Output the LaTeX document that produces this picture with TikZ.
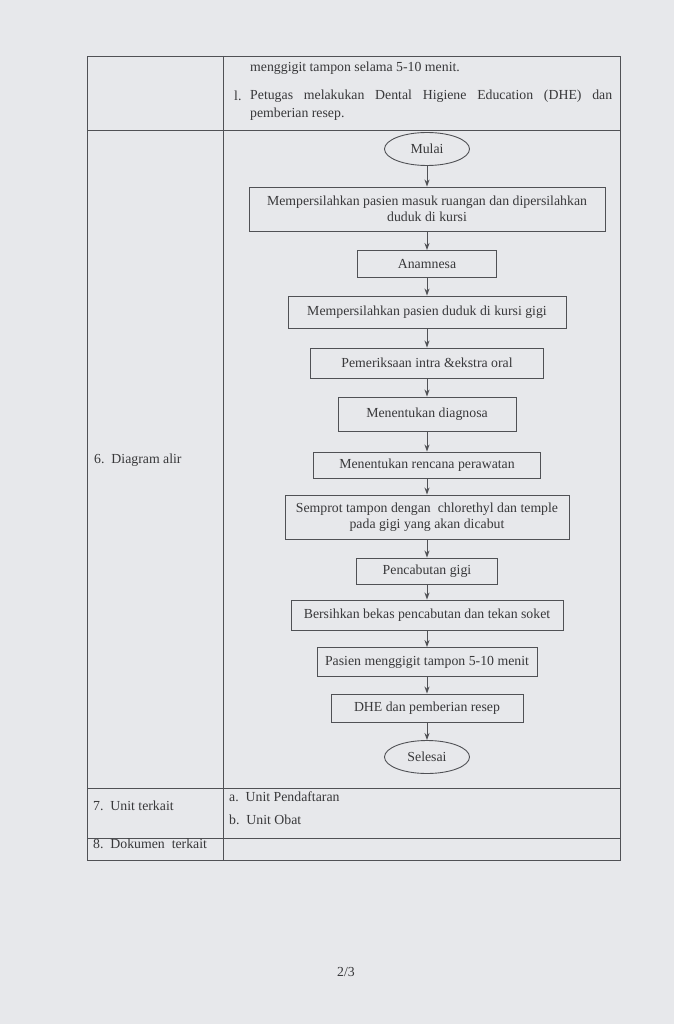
\documentclass[tikz,border=0pt]{standalone}
\usepackage{fontspec}
\setmainfont{Liberation Serif}
\usetikzlibrary{arrows.meta,shapes.geometric}
\definecolor{paper}{HTML}{E7E8EB}
\definecolor{ink}{HTML}{38383A}
\definecolor{rule}{HTML}{505155}
\begin{document}
\begin{tikzpicture}[
	x=1pt, y=-1pt,
	font=\fontsize{13.8}{16}\selectfont,
	text=ink
]
\tikzset{
    stepbox/.style = {rectangle, draw=rule, line width=0.9pt, align=center, inner sep=2pt},
    termnode/.style = {ellipse, draw=rule, line width=0.9pt, align=center, minimum width=85, minimum height=33, inner sep=1pt},
    edgea/.style = {-{Stealth[length=7pt,width=5pt]}, draw=rule, line width=0.9pt},
    tline/.style = {draw=rule, line width=0.9pt},
}
\fill[paper] (0,0) rectangle (674,1024);
\useasboundingbox (0,0) rectangle (674,1024);
% table
\draw[tline] (87,56) rectangle (620,860);
\draw[tline] (223,56) -- (223,860);
\draw[tline] (87,130) -- (620,130);
\draw[tline] (87,788) -- (620,788);
\draw[tline] (87,838) -- (620,838);
% first row
\node[anchor=west, inner sep=0pt] at (250,68) (r1a) {menggigit tampon selama 5-10 menit.};
\node[anchor=west, inner sep=0pt] at (234,96) (r1b) {l.};
\node[anchor=west, inner sep=0pt] at (250,96) (r1c) {\makebox[362pt][s]{Petugas melakukan Dental Higiene Education (DHE) dan}};
\node[anchor=west, inner sep=0pt] at (250,114) (r1d) {pemberian resep.};
% left column
\node[anchor=west, inner sep=0pt] at (94,460) (l6) {6.\ \ Diagram alir};
\node[anchor=west, inner sep=0pt] at (93,806) (l7) {7.\ \ Unit terkait};
\node[anchor=west, inner sep=0pt] at (93,844) (l8) {8.\ \ Dokumen\ \ terkait};
\node[anchor=west, inner sep=0pt] at (229,797) (u1) {a.\ \ Unit Pendaftaran};
\node[anchor=west, inner sep=0pt] at (229,820) (u2) {b.\ \ Unit Obat};
% flowchart
\node[termnode] at (427,149) (mulai) {Mulai};
\node[stepbox, minimum width=356, minimum height=44] at (427,209) (masuk) {Mempersilahkan pasien masuk ruangan dan dipersilahkan\\duduk di kursi};
\node[stepbox, minimum width=139, minimum height=27] at (427,264) (anam) {Anamnesa};
\node[stepbox, minimum width=278, minimum height=32] at (427,312) (kursi) {Mempersilahkan pasien duduk di kursi gigi};
\node[stepbox, minimum width=233, minimum height=30] at (427,363) (periksa) {Pemeriksaan intra \&ekstra oral};
\node[stepbox, minimum width=178, minimum height=34] at (427,414) (diag) {Menentukan diagnosa};
\node[stepbox, minimum width=227, minimum height=26] at (427,465) (rencana) {Menentukan rencana perawatan};
\node[stepbox, minimum width=284, minimum height=44] at (427,517) (semprot) {Semprot tampon dengan\ \ chlorethyl dan temple\\pada gigi yang akan dicabut};
\node[stepbox, minimum width=141, minimum height=26] at (427,571) (cabut) {Pencabutan gigi};
\node[stepbox, minimum width=272, minimum height=30] at (427,615) (bersih) {Bersihkan bekas pencabutan dan tekan soket};
\node[stepbox, minimum width=220, minimum height=29] at (427,662) (gigit) {Pasien menggigit tampon 5-10 menit};
\node[stepbox, minimum width=192, minimum height=28] at (427,708) (dhe) {DHE dan pemberian resep};
\node[termnode] at (427,757) (selesai) {Selesai};
%
\draw[edgea] (mulai) -- (masuk);
\draw[edgea] (masuk) -- (anam);
\draw[edgea] (anam) -- (kursi);
\draw[edgea] (kursi) -- (periksa);
\draw[edgea] (periksa) -- (diag);
\draw[edgea] (diag) -- (rencana);
\draw[edgea] (rencana) -- (semprot);
\draw[edgea] (semprot) -- (cabut);
\draw[edgea] (cabut) -- (bersih);
\draw[edgea] (bersih) -- (gigit);
\draw[edgea] (gigit) -- (dhe);
\draw[edgea] (dhe) -- (selesai);
% page number
\node at (346,972) (hal) {2/3};
\end{tikzpicture}
\end{document}
